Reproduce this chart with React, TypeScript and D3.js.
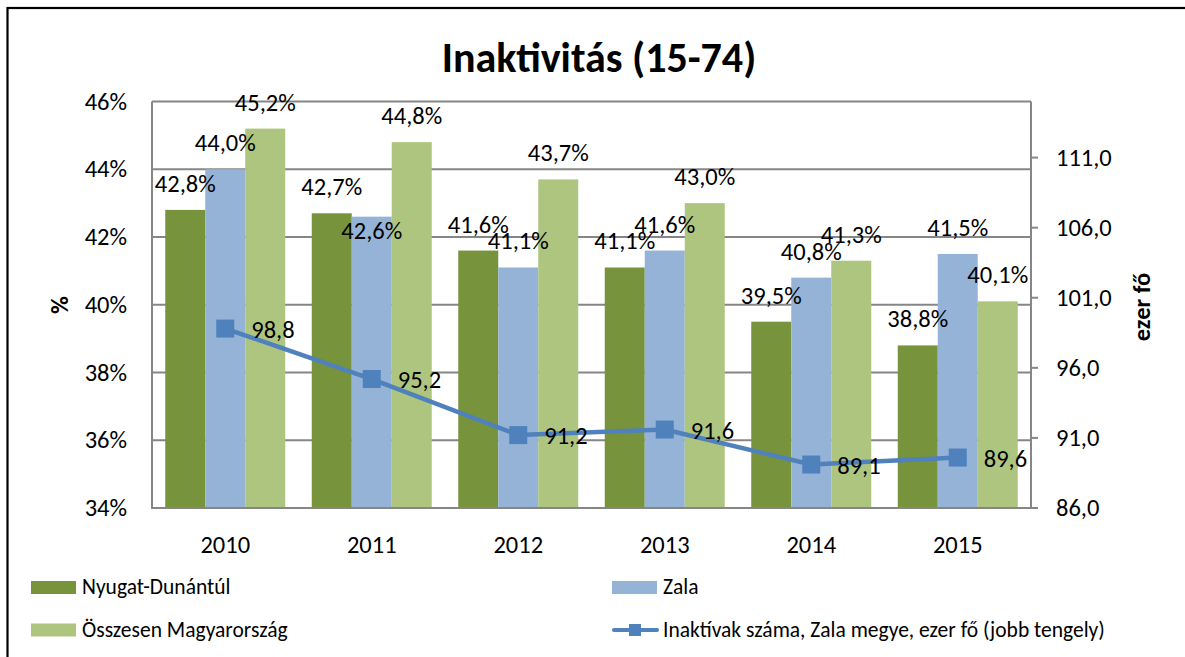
import React from "react";
import * as d3 from "d3";

const years = ["2010", "2011", "2012", "2013", "2014", "2015"];
const nyugatDunantul = [42.8, 42.7, 41.6, 41.1, 39.5, 38.8];
const zala = [44.0, 42.6, 41.1, 41.6, 40.8, 41.5];
const osszesen = [45.2, 44.8, 43.7, 43.0, 41.3, 40.1];
const inaktivak = [98.8, 95.2, 91.2, 91.6, 89.1, 89.6];
const leftTicks = [34, 36, 38, 40, 42, 44, 46];
const rightTicks = [86, 91, 96, 101, 106, 111];

const seriesNames = ["Nyugat-Dunántúl", "Zala", "Összesen Magyarország"];
const lineName = "Inaktívak száma, Zala megye, ezer fő (jobb tengely)";
const colors = ["#77933C", "#95B3D7", "#AEC57F"];
const lineColor = "#4F81BD";
const FONT = "Carlito, Calibri, Lato, sans-serif";

// label nudges (Excel moved this one inside the bar)
const labelNudge: Record<string, number> = { "1-1": 40 };

const fmt = (v: number) => v.toFixed(1).replace(".", ",");

export default function App() {
  const W = 1185, H = 657;
  const L = 152, R = 1031, T = 101.5, B = 508;
  const FS = 24.5;
  const LFS = 21.5;
  const x = d3.scaleBand<string>().domain(years).range([L, R]).paddingInner(0.181).paddingOuter(0.0905);
  const xs = d3.scaleBand<number>().domain([0, 1, 2]).range([0, x.bandwidth()]);
  const y = d3.scaleLinear().domain([34, 46]).range([B, T]);
  const y2 = d3.scaleLinear().domain([86, 115]).range([B, T]);
  const all = [nyugatDunantul, zala, osszesen];
  const cx = (yr: string) => (x(yr) as number) + x.bandwidth() / 2;
  const line = d3.line<number>().x((_, i) => cx(years[i])).y((d) => y2(d));
  const grey = "#868686";

  return (
    <svg width={W} height={H} style={{ position: "absolute", left: 0, top: 0, background: "#fff" }} fontFamily={FONT}>
      <rect x={7.5} y={8} width={W + 20} height={H + 20} fill="#fff" stroke="#000" strokeWidth={2.2} />
      <text x={599} y={57} textAnchor="middle" dominantBaseline="central" fontSize={42} fontWeight="bold">
        Inaktivitás (15-74)
      </text>
      {/* gridlines */}
      {leftTicks.slice(1).map((t) => (
        <line key={t} x1={L} x2={R} y1={y(t)} y2={y(t)} stroke={grey} strokeWidth={1.8} />
      ))}
      {/* bars */}
      {years.map((yr, i) =>
        all.map((s, k) => (
          <rect
            key={yr + k}
            x={(x(yr) as number) + (xs(k) as number)}
            y={y(s[i])}
            width={xs.bandwidth()}
            height={B - y(s[i])}
            fill={colors[k]}
          />
        ))
      )}
      {/* axes */}
      <line x1={L} x2={L} y1={T} y2={B} stroke={grey} strokeWidth={2} />
      <line x1={R} x2={R} y1={T} y2={B} stroke={grey} strokeWidth={2} />
      <line x1={L - 1} x2={R + 1} y1={B} y2={B} stroke={grey} strokeWidth={2} />
      {leftTicks.map((t) => (
        <text key={t} x={127} y={y(t)} textAnchor="end" dominantBaseline="central" fontSize={FS}>
          {t}%
        </text>
      ))}
      {rightTicks.map((t) => (
        <g key={t}>
          <line x1={R} x2={R + 7} y1={y2(t)} y2={y2(t)} stroke={grey} strokeWidth={2} />
          <text x={1056} y={y2(t)} dominantBaseline="central" fontSize={FS}>
            {fmt(t)}
          </text>
        </g>
      ))}
      {years.map((yr) => (
        <text key={yr} x={cx(yr)} y={545} textAnchor="middle" dominantBaseline="central" fontSize={FS}>
          {yr}
        </text>
      ))}
      <text transform={`translate(60,305) rotate(-90)`} textAnchor="middle" dominantBaseline="central" fontSize={FS} fontWeight="bold">
        %
      </text>
      <text transform={`translate(1142,307) rotate(-90)`} textAnchor="middle" dominantBaseline="central" fontSize={FS} fontWeight="bold">
        ezer fő
      </text>
      {/* bar labels */}
      {years.map((yr, i) =>
        all.map((s, k) => (
          <text
            key={"l" + yr + k}
            x={(x(yr) as number) + (xs(k) as number) + xs.bandwidth() / 2}
            y={y(s[i]) - 26 + (labelNudge[`${k}-${i}`] || 0)}
            textAnchor="middle"
            dominantBaseline="central"
            fontSize={FS}
          >
            {fmt(s[i])}%
          </text>
        ))
      )}
      {/* line */}
      <path d={line(inaktivak) || ""} fill="none" stroke={lineColor} strokeWidth={4.5} strokeLinejoin="round" />
      {inaktivak.map((v, i) => (
        <g key={"p" + i}>
          <rect x={cx(years[i]) - 9} y={y2(v) - 9} width={18} height={18} fill={lineColor} />
          <text x={cx(years[i]) + 26} y={y2(v) + 1} dominantBaseline="central" fontSize={FS}>
            {fmt(v)}
          </text>
        </g>
      ))}
      {/* legend */}
      <rect x={31} y={581} width={45} height={13} fill={colors[0]} />
      <text x={82} y={587} dominantBaseline="central" fontSize={LFS}>{seriesNames[0]}</text>
      <rect x={31} y={623.5} width={45} height={13} fill={colors[2]} />
      <text x={82} y={630} dominantBaseline="central" fontSize={LFS}>{seriesNames[2]}</text>
      <rect x={612} y={581} width={45} height={13} fill={colors[1]} />
      <text x={663} y={587} dominantBaseline="central" fontSize={LFS}>{seriesNames[1]}</text>
      <line x1={614} x2={657} y1={630} y2={630} stroke={lineColor} strokeWidth={4} strokeLinecap="round" />
      <rect x={629} y={624} width={12} height={12} fill={lineColor} />
      <text x={663} y={630} dominantBaseline="central" fontSize={LFS}>{lineName}</text>
    </svg>
  );
}
